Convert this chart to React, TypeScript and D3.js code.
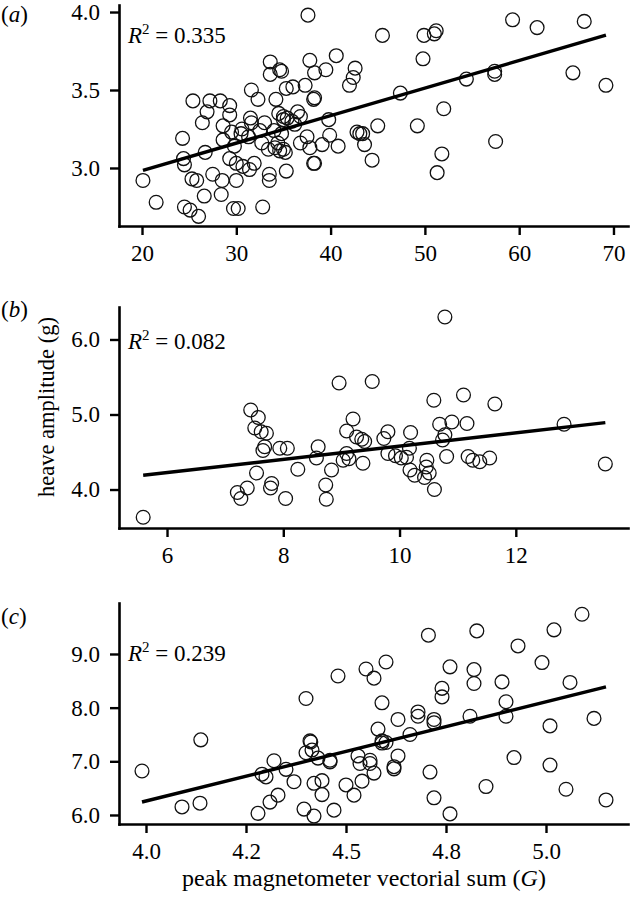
import React, { useEffect, useRef } from 'react';
import * as d3 from 'd3';

type Pt = [number, number];

// panel (a)
const pointsA: Pt[] = [
  [20.1, 2.92], [21.5, 2.78], [24.3, 3.19], [24.4, 3.06], [24.5, 3.02], [24.5, 2.75], [25.1, 2.73],
  [26.0, 2.69], [25.3, 2.93], [25.8, 2.92], [26.6, 2.82], [27.5, 2.96], [28.5, 2.92], [28.4, 2.83],
  [29.7, 2.74], [30.2, 2.74], [32.8, 2.75], [25.4, 3.43], [26.4, 3.29], [27.2, 3.43], [26.9, 3.36],
  [28.3, 3.43], [29.3, 3.40], [29.3, 3.34], [28.6, 3.27], [29.5, 3.23], [26.7, 3.10], [28.6, 3.18],
  [29.8, 3.14], [29.3, 3.06], [30.0, 3.03], [30.0, 2.92], [30.7, 3.01], [31.4, 2.99], [31.9, 3.03],
  [30.6, 3.25], [30.5, 3.22], [31.6, 3.29], [31.5, 3.32], [31.6, 3.50], [32.3, 3.44], [31.3, 3.20],
  [32.7, 3.16], [33.4, 3.12], [33.5, 2.96], [33.5, 2.92], [35.3, 2.98], [33.6, 3.68], [33.6, 3.60],
  [34.6, 3.63], [34.8, 3.62], [35.3, 3.51], [34.2, 3.44], [34.5, 3.35], [35.0, 3.33], [35.4, 3.32],
  [35.9, 3.30], [35.0, 3.31], [34.0, 3.24], [34.8, 3.22], [34.4, 3.16], [34.1, 3.13], [35.0, 3.12],
  [35.2, 3.10], [34.6, 3.11], [36.8, 3.33], [37.5, 3.20], [36.8, 3.16], [38.2, 3.03], [37.8, 3.69],
  [38.3, 3.61], [38.3, 3.45], [37.6, 3.98], [36.0, 3.52], [37.3, 3.53], [45.5, 3.85], [49.9, 3.85],
  [51.0, 3.86], [51.2, 3.88], [59.3, 3.95], [61.9, 3.90], [66.9, 3.94], [49.8, 3.70], [40.6, 3.72],
  [39.5, 3.63], [42.6, 3.64], [42.4, 3.58], [42.0, 3.53], [38.2, 3.44], [47.4, 3.48], [54.4, 3.57],
  [57.4, 3.62], [57.4, 3.60], [65.7, 3.61], [69.2, 3.53], [52.0, 3.38], [39.8, 3.31], [39.9, 3.21],
  [39.1, 3.15], [40.8, 3.14], [42.8, 3.23], [43.1, 3.22], [43.4, 3.22], [43.6, 3.15], [44.4, 3.05],
  [45.0, 3.27], [49.2, 3.27], [38.3, 3.03], [51.8, 3.09], [51.3, 2.97], [57.5, 3.17], [37.8, 3.13],
  [36.5, 3.36], [36.2, 3.28], [33.0, 3.29], [32.5, 3.24],
];
const xTicksA = [20, 30, 40, 50, 60, 70];
const xLabelsA = ['20', '30', '40', '50', '60', '70'];
const yTicksA = [3.0, 3.5, 4.0];
const yLabelsA = ['3.0', '3.5', '4.0'];
const fitA = { intercept: 2.63, slope: 0.01765 };
const r2A = '0.335';

// panel (b)
const pointsB: Pt[] = [
  [5.59, 3.63], [7.44, 5.06], [7.57, 4.96], [7.51, 4.82], [7.62, 4.77], [7.71, 4.75], [7.68, 4.57],
  [7.65, 4.52], [7.94, 4.55], [8.07, 4.55], [7.54, 4.22], [8.25, 4.27], [7.21, 3.96], [7.27, 3.88],
  [7.38, 4.02], [7.80, 4.08], [7.78, 4.02], [8.04, 3.88], [8.60, 4.57], [8.57, 4.42], [10.78, 6.30],
  [8.96, 5.42], [9.53, 5.44], [10.59, 5.19], [11.10, 5.26], [11.64, 5.14], [9.20, 4.94], [9.09, 4.78],
  [9.26, 4.70], [9.35, 4.67], [9.40, 4.64], [9.80, 4.77], [9.73, 4.68], [10.19, 4.76], [10.69, 4.87],
  [10.90, 4.90], [11.16, 4.88], [10.78, 4.73], [10.74, 4.66], [12.83, 4.87], [9.09, 4.48], [9.03, 4.39],
  [9.13, 4.41], [9.37, 4.35], [8.83, 4.26], [8.73, 4.06], [8.74, 3.87], [9.80, 4.48], [9.93, 4.45],
  [10.03, 4.42], [10.12, 4.43], [10.17, 4.55], [10.47, 4.39], [10.46, 4.30], [10.18, 4.26], [10.26, 4.19],
  [10.43, 4.16], [10.51, 4.22], [10.60, 4.00], [10.81, 4.44], [11.18, 4.44], [11.26, 4.39], [11.38, 4.37],
  [11.55, 4.42], [13.54, 4.34],
];
const xTicksB = [6, 8, 10, 12];
const xLabelsB = ['6', '8', '10', '12'];
const yTicksB = [4.0, 5.0, 6.0];
const yLabelsB = ['4.0', '5.0', '6.0'];
const fitB = { intercept: 3.696, slope: 0.0883 };
const r2B = '0.082';

// panel (c)
const pointsC: Pt[] = [
  [3.99, 6.82], [4.137, 7.40], [4.09, 6.15], [4.135, 6.22], [4.40, 8.17], [4.41, 7.38], [4.412, 7.36],
  [4.40, 7.16], [4.43, 7.06], [4.32, 7.01], [4.29, 6.76], [4.30, 6.71], [4.35, 6.85], [4.37, 6.62],
  [4.33, 6.37], [4.31, 6.24], [4.28, 6.03], [4.395, 6.11], [4.42, 5.98], [4.47, 6.09], [4.50, 6.56],
  [4.52, 6.37], [4.42, 6.59], [4.44, 6.64], [4.44, 6.38], [4.706, 9.35], [4.827, 9.43], [4.93, 9.15],
  [5.02, 9.45], [5.09, 9.74], [4.99, 8.84], [4.48, 8.59], [4.55, 8.72], [4.57, 8.55], [4.60, 8.85],
  [4.76, 8.76], [4.82, 8.71], [4.82, 8.45], [4.89, 8.48], [5.06, 8.47], [4.74, 8.36], [4.74, 8.20],
  [4.59, 8.09], [4.90, 8.11], [4.90, 7.84], [4.81, 7.84], [4.68, 7.92], [4.68, 7.84], [4.72, 7.78],
  [4.72, 7.72], [4.63, 7.78], [5.12, 7.80], [5.01, 7.66], [4.58, 7.60], [4.59, 7.38], [4.60, 7.35],
  [4.59, 7.34], [4.66, 7.50], [4.415, 7.21], [4.46, 7.02], [4.46, 6.99], [4.53, 7.10], [4.535, 6.96],
  [4.56, 6.96], [4.56, 7.02], [4.63, 7.10], [4.62, 6.90], [4.62, 6.86], [4.57, 6.78], [4.54, 6.63],
  [4.71, 6.80], [4.72, 6.32], [4.76, 6.02], [4.85, 6.53], [4.92, 7.07], [5.01, 6.93], [5.05, 6.48],
  [5.15, 6.28],
];
const xTicksC = [4.0, 4.25, 4.5, 4.75, 5.0];
const xLabelsC = ['4.0', '4.2', '4.5', '4.8', '5.0'];
const yTicksC = [6.0, 7.0, 8.0, 9.0];
const yLabelsC = ['6.0', '7.0', '8.0', '9.0'];
const fitC = { intercept: -1.14, slope: 1.85 };
const r2C = '0.239';

const W = 631;
const H = 905;
const LEFT = 119;
const RIGHT = 628;
const FONT = '"Liberation Serif", "Times New Roman", serif';
const FS = 23;

const panels = [
  { tag: 'a', points: pointsA, xTicks: xTicksA, xLabels: xLabelsA, yTicks: yTicksA, yLabels: yLabelsA,
    fit: fitA, r2: r2A, top: 5, bottom: 226, xDomain: [17.56, 71.54], yDomain: [2.628, 4.045],
    tagY: 22, r2Y: 43 },
  { tag: 'b', points: pointsB, xTicks: xTicksB, xLabels: xLabelsB, yTicks: yTicksB, yLabels: yLabelsB,
    fit: fitB, r2: r2B, top: 307, bottom: 528, xDomain: [5.174, 13.93], yDomain: [3.487, 6.433],
    tagY: 317, r2Y: 349 },
  { tag: 'c', points: pointsC, xTicks: xTicksC, xLabels: xLabelsC, yTicks: yTicksC, yLabels: yLabelsC,
    fit: fitC, r2: r2C, top: 603, bottom: 824, xDomain: [3.9325, 5.205], yDomain: [5.832, 9.95],
    tagY: 624, r2Y: 661 },
];

export default function App() {
  const ref = useRef<SVGSVGElement>(null);

  useEffect(() => {
    const svg = d3.select(ref.current);
    svg.selectAll('*').remove();

    panels.forEach((p) => {
      const g = svg.append('g');
      const x = d3.scaleLinear().domain(p.xDomain).range([LEFT, RIGHT]);
      const y = d3.scaleLinear().domain(p.yDomain).range([p.bottom, p.top]);

      const xAxis = g.append('g')
        .attr('transform', `translate(0,${p.bottom})`)
        .call(d3.axisBottom(x).tickValues(p.xTicks)
          .tickFormat((d, i) => p.xLabels[i]).tickSize(9).tickSizeOuter(0).tickPadding(10));
      const yAxis = g.append('g')
        .attr('transform', `translate(${LEFT},0)`)
        .call(d3.axisLeft(y).tickValues(p.yTicks)
          .tickFormat((d, i) => p.yLabels[i]).tickSize(9).tickSizeOuter(0).tickPadding(10));

      [xAxis, yAxis].forEach((ax) => {
        ax.attr('font-family', FONT).attr('font-size', FS);
        ax.select('.domain').attr('stroke', '#000').attr('stroke-width', 2.6)
          .attr('stroke-linecap', 'square');
        ax.selectAll('.tick line').attr('stroke', '#000').attr('stroke-width', 2.4);
        ax.selectAll('.tick text').attr('fill', '#000');
      });

      g.append('g')
        .selectAll('circle')
        .data(p.points)
        .join('circle')
        .attr('cx', (d) => x(d[0]))
        .attr('cy', (d) => y(d[1]))
        .attr('r', 6.9)
        .attr('fill', 'none')
        .attr('stroke', '#111')
        .attr('stroke-width', 1.3);

      const ext = d3.extent(p.points, (d) => d[0]) as [number, number];
      const line = d3.line<number>()
        .x((v) => x(v))
        .y((v) => y(p.fit.intercept + p.fit.slope * v));
      g.append('path')
        .attr('d', line(ext))
        .attr('fill', 'none')
        .attr('stroke', '#000')
        .attr('stroke-width', 3.4);

      const r2 = g.append('text')
        .attr('x', 128)
        .attr('y', p.r2Y)
        .attr('font-family', FONT)
        .attr('font-size', FS);
      r2.append('tspan').attr('font-style', 'italic').text('R');
      r2.append('tspan').attr('font-size', 15).attr('dy', -9).text('2');
      r2.append('tspan').attr('dy', 9).text(` = ${p.r2}`);

      const tag = g.append('text')
        .attr('x', 1)
        .attr('y', p.tagY)
        .attr('font-family', FONT)
        .attr('font-size', FS);
      tag.append('tspan').text('(');
      tag.append('tspan').attr('font-style', 'italic').text(p.tag);
      tag.append('tspan').text(')');
    });

    svg.append('text')
      .attr('transform', 'translate(54,407) rotate(-90)')
      .attr('text-anchor', 'middle')
      .attr('font-family', FONT)
      .attr('font-size', 22.5)
      .text('heave amplitude (g)');

    const xt = svg.append('text')
      .attr('x', 364)
      .attr('y', 886)
      .attr('text-anchor', 'middle')
      .attr('font-family', FONT)
      .attr('font-size', 24);
    xt.append('tspan').text('peak magnetometer vectorial sum (');
    xt.append('tspan').attr('font-style', 'italic').text('G');
    xt.append('tspan').text(')');
  }, []);

  return (
    <svg
      ref={ref}
      width={W}
      height={H}
      style={{ position: 'absolute', left: 0, top: 0, background: '#fff' }}
    />
  );
}
